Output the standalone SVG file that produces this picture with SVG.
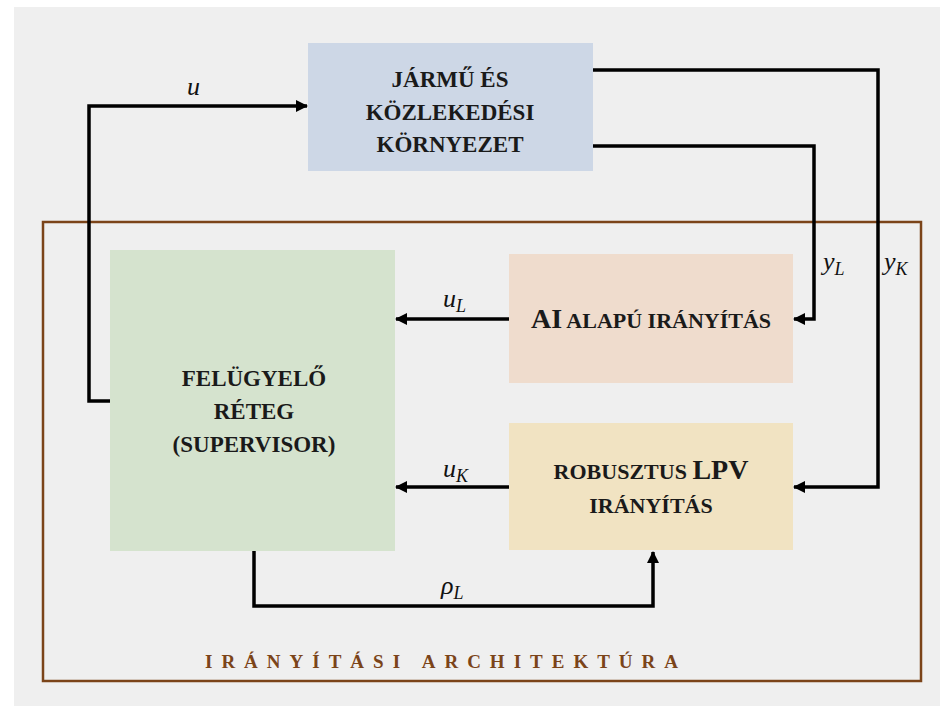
<svg xmlns="http://www.w3.org/2000/svg" width="940" height="706" viewBox="0 0 940 706">
<defs>
<marker id="arr" markerWidth="12" markerHeight="12" viewBox="0 0 12 12" refX="11" refY="6" orient="auto" markerUnits="userSpaceOnUse">
<path d="M0,0 L12,6 L0,12 Z" fill="#000"/>
</marker>
</defs>
<rect x="0" y="0" width="940" height="706" fill="#ffffff"/>
<rect x="14" y="7" width="926" height="699" fill="#efefef"/>
<rect x="43" y="222" width="878" height="459" fill="none" stroke="#7b4419" stroke-width="2.5"/>
<text font-family="Liberation Serif" font-weight="bold" font-size="19" fill="#7b4419" x="205" y="668" textLength="473" lengthAdjust="spacing">IRÁNYÍTÁSI ARCHITEKTÚRA</text>

<g id="jarmu" font-family="Liberation Serif" font-weight="bold" font-size="23" fill="#1a1a1a" text-anchor="middle">
<rect x="308" y="43" width="285" height="128" fill="#cdd7e6"/>
<text x="450" y="87">JÁRMŰ ÉS</text>
<text x="450" y="120">KÖZLEKEDÉSI</text>
<text x="450" y="152">KÖRNYEZET</text>
</g>
<g id="ai" font-family="Liberation Serif" font-weight="bold" font-size="22" fill="#1a1a1a" text-anchor="middle">
<rect x="509" y="254" width="284" height="129" fill="#efdccd"/>
<text x="651" y="328"><tspan font-size="28">AI</tspan> ALAPÚ IRÁNYÍTÁS</text>
</g>
<g id="lpv" font-family="Liberation Serif" font-weight="bold" font-size="22" fill="#1a1a1a" text-anchor="middle">
<rect x="509" y="423" width="284" height="127" fill="#f1e3c2"/>
<text x="651" y="479">ROBUSZTUS <tspan font-size="28">LPV</tspan></text>
<text x="651" y="513">IRÁNYÍTÁS</text>
</g>
<g id="supervisor" font-family="Liberation Serif" font-weight="bold" font-size="23" fill="#1a1a1a" text-anchor="middle">
<rect x="110" y="250" width="285" height="301" fill="#d5e3ce"/>
<text x="254" y="386">FELÜGYELŐ</text>
<text x="254" y="419">RÉTEG</text>
<text x="254" y="452">(SUPERVISOR)</text>
</g>

<g id="connectors" fill="none" stroke="#000" stroke-width="3.5">
<polyline points="110,401 89,401 89,106 307,106" marker-end="url(#arr)"/>
<polyline points="593,70 878,70 878,487 794,487" marker-end="url(#arr)"/>
<polyline points="593,146 814,146 814,319 794,319" marker-end="url(#arr)"/>
<polyline points="509,319 396,319" marker-end="url(#arr)"/>
<polyline points="509,487 396,487" marker-end="url(#arr)"/>
<polyline points="254,551 254,606 653,606 653,552" marker-end="url(#arr)"/>
</g>
<g id="labels" font-family="Liberation Serif" font-style="italic" font-size="26" fill="#111">
<text x="187" y="95">u</text>
<text x="823" y="270">y<tspan font-size="18" dy="5">L</tspan></text>
<text x="884" y="270">y<tspan font-size="18" dy="5">K</tspan></text>
<text x="443" y="307">u<tspan font-size="18" dy="5">L</tspan></text>
<text x="443" y="477">u<tspan font-size="18" dy="5">K</tspan></text>
<text x="441" y="594">ρ<tspan font-size="18" dy="5">L</tspan></text>
</g>
</svg>
